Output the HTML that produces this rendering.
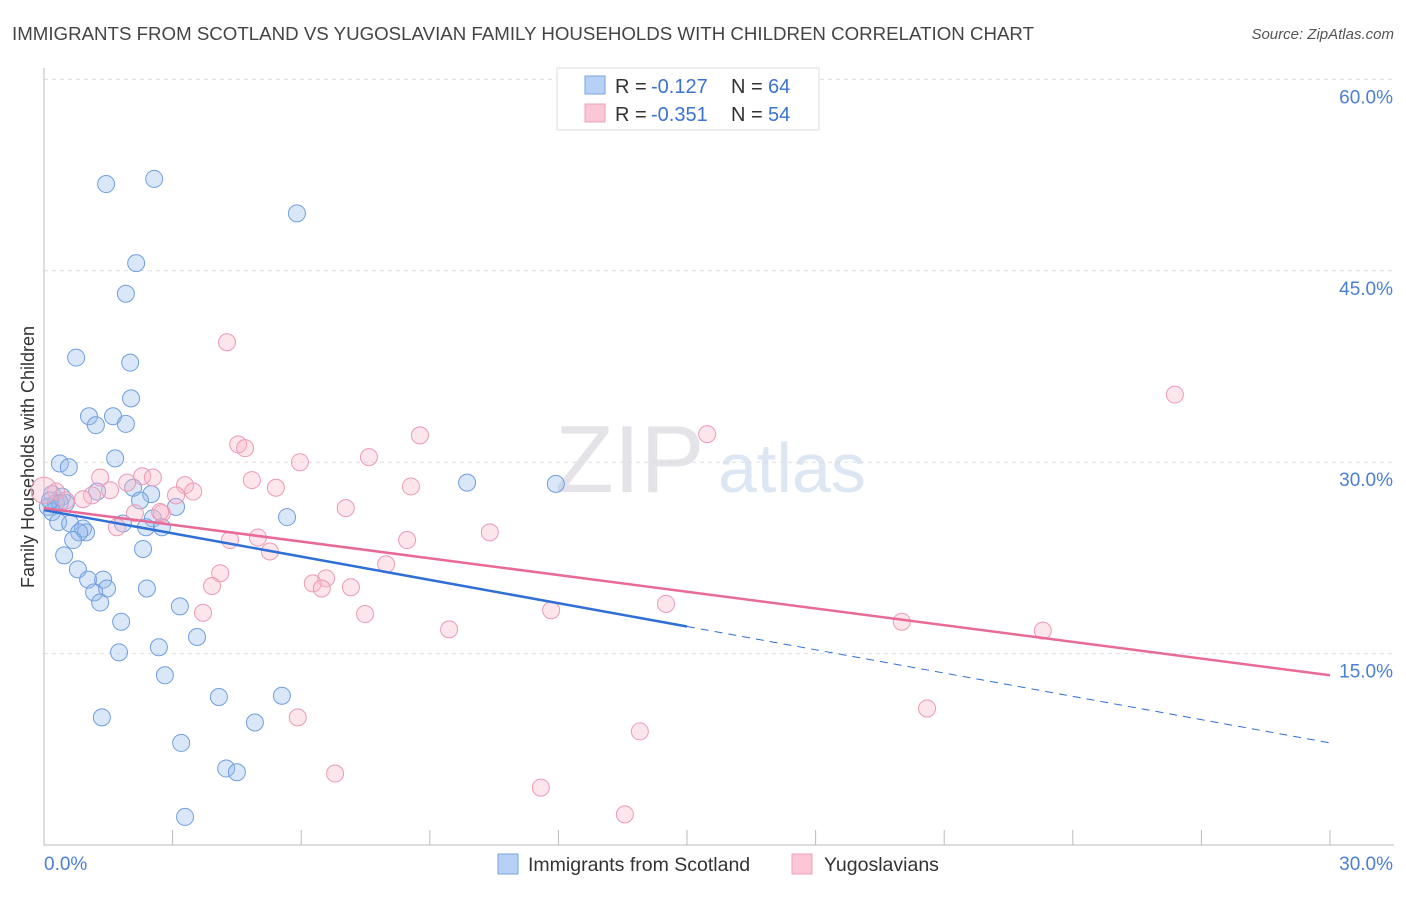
<!DOCTYPE html>
<html><head><meta charset="utf-8"><style>
body{margin:0;background:#fff;font-family:"Liberation Sans",sans-serif}
svg text{font-family:"Liberation Sans",sans-serif}
</style></head><body>
<svg id="c" width="1406" height="892" xmlns="http://www.w3.org/2000/svg">
<text x="12" y="40" font-size="18" fill="#444" textLength="1022" lengthAdjust="spacingAndGlyphs">IMMIGRANTS FROM SCOTLAND VS YUGOSLAVIAN FAMILY HOUSEHOLDS WITH CHILDREN CORRELATION CHART</text>
<text x="1394" y="39" font-size="15" fill="#555" text-anchor="end" font-style="italic">Source: ZipAtlas.com</text>
<text x="34" y="457" font-size="18" fill="#333" text-anchor="middle" transform="rotate(-90 34 457)">Family Households with Children</text>
<text x="555" y="492" font-size="96" fill="#e4e4e8" font-family="Liberation Serif">ZIP</text>
<text x="718" y="492" font-size="70" fill="#dde6f3">atlas</text>
<g id="grid"></g><g id="pts"></g><g id="lines"></g>
<g>
<rect x="557" y="68" width="262" height="62" fill="#fff" stroke="#ddd"/>
<rect x="585" y="76" width="20" height="18" fill="#b7d0f5" stroke="#7aa3e0"/>
<rect x="585" y="104" width="20" height="18" fill="#fbc7d6" stroke="#eea0b8"/>
<text y="93" font-size="20" fill="#333"><tspan x="615">R =</tspan><tspan x="651" fill="#3b73d1">-0.127</tspan><tspan x="731">N =</tspan><tspan x="768" fill="#3b73d1">64</tspan></text>
<text y="121" font-size="20" fill="#333"><tspan x="615">R =</tspan><tspan x="651" fill="#3b73d1">-0.351</tspan><tspan x="731">N =</tspan><tspan x="768" fill="#3b73d1">54</tspan></text>
</g>
<g>
<rect x="498" y="854" width="20" height="20" fill="#b7d0f5" stroke="#7aa3e0"/>
<text x="528" y="871" font-size="19.5" fill="#333">Immigrants from Scotland</text>
<rect x="792" y="854" width="20" height="20" fill="#fbc7d6" stroke="#eea0b8"/>
<text x="824" y="871" font-size="19.5" fill="#333">Yugoslavians</text>
</g>
</svg>
<script>
const yTicks=[15,30,45,60];
const yTickLabels=["15.0%","30.0%","45.0%","60.0%"];
const xTickLabels=["0.0%","30.0%"];
const blueX=[1.45,2.57,5.90,2.15,1.91,0.75,2.01,2.03,1.05,1.61,1.21,1.91,1.66,0.37,0.58,9.87,11.94,0.19,0.42,1.24,2.08,2.50,2.24,3.08,0.28,0.51,0.09,0.19,5.67,2.54,1.84,0.33,0.61,0.91,0.98,0.82,2.38,2.75,0.68,2.31,0.47,0.79,1.03,1.38,1.47,1.17,2.40,1.31,3.17,1.80,3.57,2.68,1.75,2.82,4.08,5.55,1.35,4.92,3.20,4.25,4.50,3.29,0.37,0.14];
const blueY=[51.8,52.2,49.5,45.6,43.2,38.2,37.8,35.0,33.6,33.6,32.9,33.0,30.3,29.9,29.6,28.4,28.3,27.5,27.3,27.7,28.0,27.5,27.0,26.5,26.8,26.8,26.5,26.1,25.7,25.6,25.2,25.3,25.2,24.8,24.5,24.5,24.9,24.9,23.9,23.2,22.7,21.6,20.8,20.8,20.1,19.8,20.1,19.0,18.7,17.5,16.3,15.5,15.1,13.3,11.6,11.7,10.0,9.6,8.0,6.0,5.7,2.2,26.8,27.0];
const pinkX=[4.27,26.38,8.77,15.47,4.53,4.69,7.58,5.97,1.31,2.29,2.54,1.94,3.29,4.85,8.56,5.41,1.54,3.48,3.08,1.12,0.91,7.04,2.75,2.12,1.70,10.40,8.47,4.99,5.27,7.98,4.11,6.58,6.27,6.48,3.92,7.16,3.71,7.49,11.83,14.51,9.45,20.01,23.30,5.92,20.60,13.90,6.79,11.59,13.55,0.28,0.51,0.0,2.71,4.34];
const pinkY=[39.4,35.3,32.1,32.2,31.4,31.1,30.4,30.0,28.8,28.9,28.8,28.4,28.2,28.6,28.1,28.0,27.8,27.7,27.4,27.4,27.1,26.4,26.0,26.0,24.9,24.5,23.9,24.1,23.0,22.0,21.3,20.9,20.5,20.1,20.3,20.2,18.2,18.1,18.4,18.9,16.9,17.5,16.8,10.0,10.7,8.9,5.6,4.5,2.4,27.7,27.0,27.8,26.1,23.9];
const blueTrend=[26.25,8.0], pinkTrend=[26.4,13.3];
const X=v=>44+v*42.867, Y=v=>845-v*12.76;
const NS="http://www.w3.org/2000/svg";
function mk(t,a,p){const e=document.createElementNS(NS,t);for(const k in a)e.setAttribute(k,a[k]);p.appendChild(e);return e;}
const g=document.getElementById('grid');
yTicks.forEach((t,i)=>{
 const l=mk('line',{x1:44,x2:1394,y1:Y(t),y2:Y(t),stroke:'#ddd','stroke-dasharray':'4 4'},g);
 
 
 const tx=mk('text',{x:1393,y:Y(t)+24,'font-size':19,fill:'#4a7fd4','text-anchor':'end'},g);
 tx.textContent=yTickLabels[i];
 
 
});
const ax=mk('path',{d:'M44 68V845H1394',fill:'none',stroke:'#bbb'},g);


for(let i=0;i<=10;i++){const tk=mk('line',{x1:X(i*3),x2:X(i*3),y1:830,y2:845,stroke:'#bbb'},g);
 
 }
[[0,'start'],[30,'end']].forEach((d,i)=>{const tx=mk('text',{x:i?1393:44,y:870,'font-size':19,fill:'#4a7fd4','text-anchor':d[1]},g);
 tx.textContent=xTickLabels[i];
 
 });
const P=document.getElementById('pts');
blueX.forEach((x,i)=>{const c=mk('circle',{cx:X(x),cy:Y(blueY[i]),r:8.5,fill:'rgba(150,185,235,0.35)',stroke:'#6f9ee0','stroke-width':1},P);
 
 });
pinkX.forEach((x,i)=>{const c=mk('circle',{cx:X(x),cy:Y(pinkY[i]),r:x===0?13:8.5,fill:'rgba(248,180,200,0.35)',stroke:'#ec9ab4','stroke-width':1},P);
 
 });
const L=document.getElementById('lines');
const bAt=x=>blueTrend[0]+(blueTrend[1]-blueTrend[0])*x/30;
let l1=mk('line',{x1:X(0),y1:Y(bAt(0)),x2:X(15),y2:Y(bAt(15)),stroke:'#2f6fd6','stroke-width':2.5},L);


let l2=mk('line',{x1:X(15),y1:Y(bAt(15)),x2:X(30),y2:Y(bAt(30)),stroke:'#2f6fd6','stroke-width':1,'stroke-dasharray':'8 6'},L);


let l3=mk('line',{x1:X(0),y1:Y(pinkTrend[0]),x2:X(30),y2:Y(pinkTrend[1]),stroke:'#e86a97','stroke-width':2.5},L);


</script>
</body></html>
